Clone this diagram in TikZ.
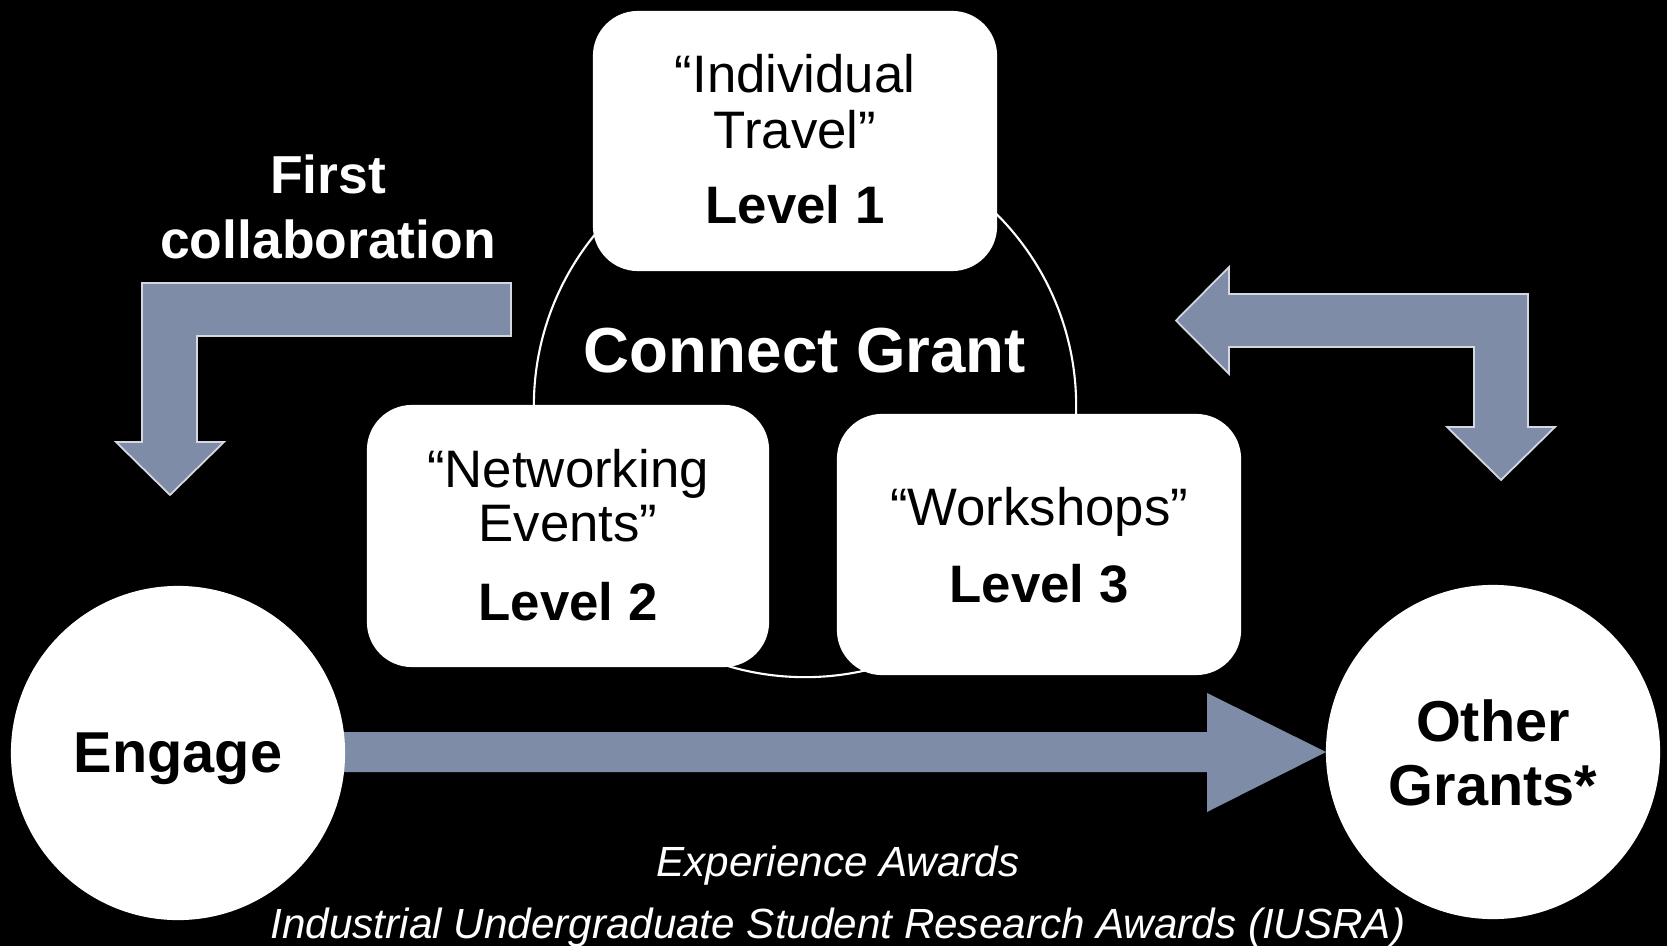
\documentclass[tikz,border=0pt]{standalone}
\usepackage{fontspec}
\setmainfont{Liberation Sans}
\begin{document}
\begin{tikzpicture}[x=0.01cm,y=-0.01cm]
\definecolor{arrowc}{HTML}{7F8CA8}
\definecolor{arrowl}{HTML}{D4D8E0}
\tikzset{
  box/.style={fill=white, rounded corners=0.45cm, inner sep=0pt},
  disc/.style={circle, fill=white, inner sep=0pt, minimum size=3.34cm},
  blockarrow/.style={fill=arrowc, draw=arrowl, line width=0.5pt},
  boxtxt/.style={anchor=base, inner sep=0pt, text=black, font=\fontsize{15}{18}\selectfont},
  boxlvl/.style={anchor=base, inner sep=0pt, text=black, font=\fontsize{15}{18}\selectfont\bfseries},
  wlabel/.style={anchor=base, inner sep=0pt, text=white, font=\fontsize{15.2}{18}\selectfont\bfseries},
  clabel/.style={anchor=base, inner sep=0pt, text=black, font=\fontsize{16.4}{19}\selectfont\bfseries},
  note/.style={anchor=base, inner sep=0pt, text=white, font=\fontsize{12}{14}\selectfont\itshape},
}
\fill[black] (0,0) rectangle (1667,946);
\useasboundingbox (0,0) rectangle (1667,946);
% ring
\draw[white, line width=0.6pt] (805,406) circle[radius=2.71cm];
% boxes
\node[box, minimum width=4.04cm, minimum height=2.6cm] (b1) at (795,141) {};
\node[box, minimum width=4.02cm, minimum height=2.62cm] (b2) at (568,536) {};
\node[box, minimum width=4.04cm, minimum height=2.61cm] (b3) at (1039,544.5) {};
\node[boxtxt] (t1a) at (795,93) {“Individual};
\node[boxtxt] (t1b) at (795,149) {Travel”};
\node[boxlvl] (t1c) at (795,224) {Level 1};
\node[boxtxt] (t2a) at (568,488) {“Networking};
\node[boxtxt] (t2b) at (568,541) {Events”};
\node[boxlvl] (t2c) at (568,620) {Level 2};
\node[boxtxt] (t3a) at (1039,525) {“Workshops”};
\node[boxlvl] (t3b) at (1039,602) {Level 3};
\node[anchor=base, inner sep=0pt, text=white, font=\fontsize{18.1}{22}\selectfont\bfseries] (cg) at (805,373) {Connect Grant};
% labels
\node[wlabel] (fc1) at (328,194) {First};
\node[wlabel] (fc2) at (328,259) {collaboration};
% block arrows
\draw[blockarrow] (511,283) -- (142,283) -- (142,442) -- (116,442) -- (170,495) -- (224,442) -- (197,442) -- (197,336) -- (511,336) -- cycle;
\draw[blockarrow] (1176,320.5) -- (1229,267) -- (1229,294) -- (1528,294) -- (1528,427) -- (1555,427) -- (1501,480) -- (1447,427) -- (1474,427) -- (1474,347) -- (1229,347) -- (1229,374) -- cycle;
\fill[arrowc] (300,732) -- (1207,732) -- (1207,693) -- (1326,752) -- (1207,812) -- (1207,772) -- (300,772) -- cycle;
% circles
\node[disc] (eng) at (178,753) {};
\node[disc] (oth) at (1493,752) {};
\node[clabel] (engt) at (178,772) {Engage};
\node[clabel] (oth1) at (1493,741) {Other};
\node[clabel] (oth2) at (1493,805) {Grants*};
% notes
\node[note] (n1) at (838,876) {Experience Awards};
\node[note] (n2) at (838,938) {Industrial Undergraduate Student Research Awards (IUSRA)};
\end{tikzpicture}
\end{document}
